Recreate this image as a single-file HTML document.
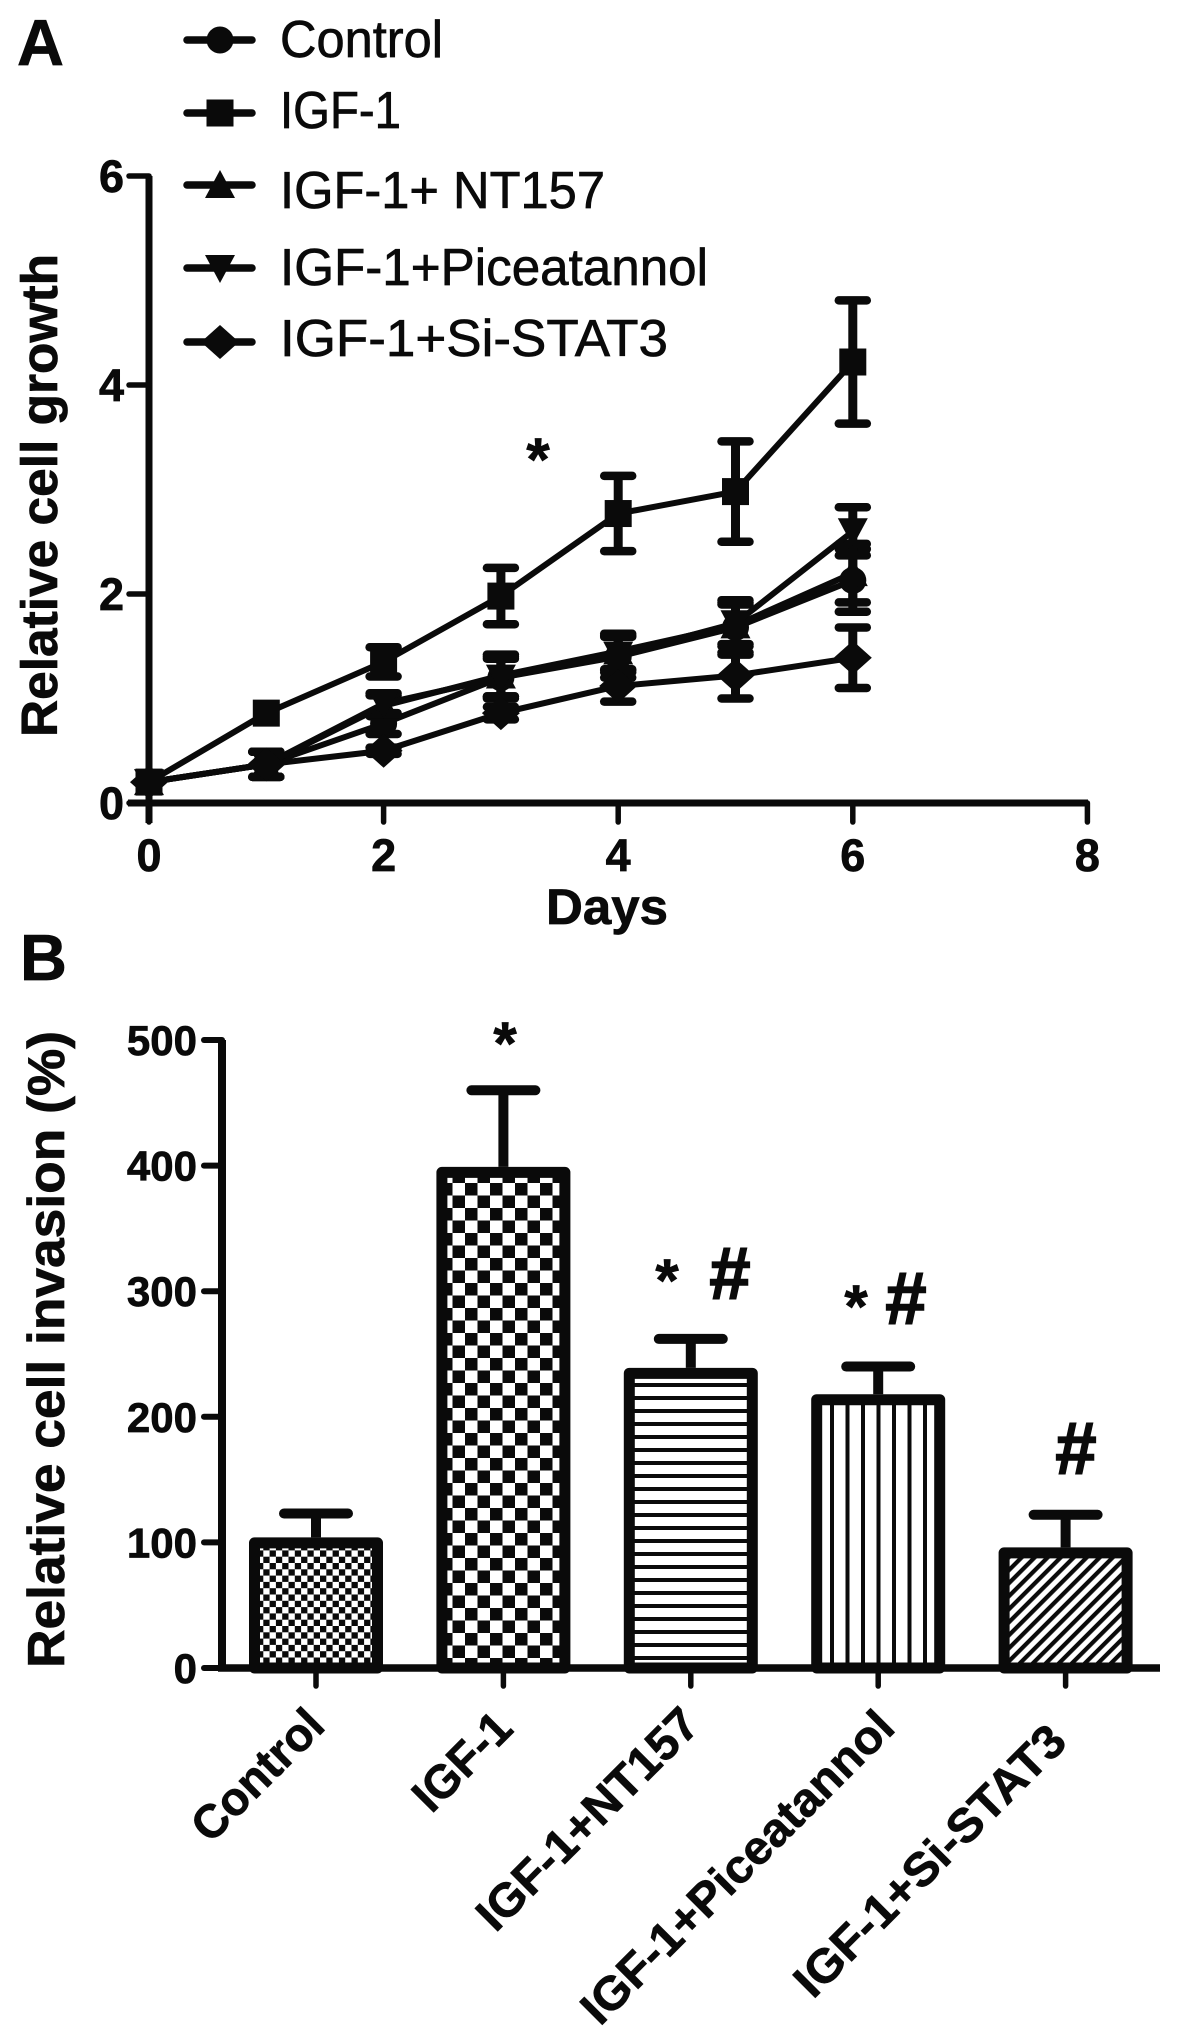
<!DOCTYPE html>
<html lang="en">
<head>
<meta charset="utf-8">
<title>Relative cell growth and invasion</title>
<style>
html,body{margin:0;padding:0;background:#fff;}
svg{display:block;}
text{font-family:"Liberation Sans",sans-serif;fill:#0a0a0a;stroke:#0a0a0a;stroke-width:.7px;}
.b{font-weight:bold;}
</style>
</head>
<body>
<svg id="fig" xmlns="http://www.w3.org/2000/svg" width="1181" height="2041" viewBox="0 0 1181 2041">
<defs>
<pattern id="p-fine" patternUnits="userSpaceOnUse" x="257" y="1500" width="12.6" height="12.6">
<rect width="12.6" height="12.6" fill="#fff"/>
<rect width="6.3" height="6.3" fill="#0a0a0a"/>
<rect x="6.3" y="6.3" width="6.3" height="6.3" fill="#0a0a0a"/>
</pattern>
<pattern id="p-check" patternUnits="userSpaceOnUse" x="465" y="1183" width="25" height="25">
<rect width="25" height="25" fill="#fff"/>
<rect width="12.5" height="12.5" fill="#0a0a0a"/>
<rect x="12.5" y="12.5" width="12.5" height="12.5" fill="#0a0a0a"/>
</pattern>
<pattern id="p-horiz" patternUnits="userSpaceOnUse" x="0" y="1383" width="13" height="13">
<rect width="13" height="13" fill="#fff"/>
<rect width="13" height="4" fill="#0a0a0a"/>
</pattern>
<pattern id="p-vert" patternUnits="userSpaceOnUse" x="830" y="0" width="15.5" height="15.5">
<rect width="15.5" height="15.5" fill="#fff"/>
<rect width="4" height="15.5" fill="#0a0a0a"/>
</pattern>
<pattern id="p-diag" patternUnits="userSpaceOnUse" width="9.2" height="9.2" patternTransform="rotate(45)">
<rect width="9.2" height="9.2" fill="#fff"/>
<rect width="4.2" height="9.2" fill="#0a0a0a"/>
</pattern>
</defs>

<text class="b" x="17" y="65" font-size="65">A</text>
<text class="b" x="20" y="980" font-size="65">B</text>

<g id="legend">
<text x="280" y="57" font-size="52" textLength="163" lengthAdjust="spacingAndGlyphs">Control</text>
<text x="280" y="128" font-size="52" textLength="121" lengthAdjust="spacingAndGlyphs">IGF-1</text>
<text x="280" y="208" font-size="52" textLength="325" lengthAdjust="spacingAndGlyphs">IGF-1+ NT157</text>
<text x="280" y="285" font-size="52" textLength="428" lengthAdjust="spacingAndGlyphs">IGF-1+Piceatannol</text>
<text x="280" y="356" font-size="52" textLength="388" lengthAdjust="spacingAndGlyphs">IGF-1+Si-STAT3</text>
</g>

<text class="b" transform="translate(57,737) rotate(-90)" font-size="51" textLength="483" lengthAdjust="spacingAndGlyphs">Relative cell growth</text>
<text class="b" x="546" y="924" font-size="50" textLength="122" lengthAdjust="spacingAndGlyphs">Days</text>
<text class="b" x="538" y="480" font-size="60" text-anchor="middle">*</text>

<text class="b" transform="translate(64,1668) rotate(-90)" font-size="52" textLength="637" lengthAdjust="spacingAndGlyphs">Relative cell invasion (%)</text>
<text class="b" x="505" y="1064" font-size="60" text-anchor="middle">*</text>
<text class="b" x="667" y="1301" font-size="60" text-anchor="middle">*</text>
<text class="b" x="730" y="1299" font-size="74" text-anchor="middle" style="stroke-width:1.6px">#</text>
<text class="b" x="856" y="1327" font-size="60" text-anchor="middle">*</text>
<text class="b" x="906" y="1324" font-size="74" text-anchor="middle" style="stroke-width:1.6px">#</text>
<text class="b" x="1076" y="1474" font-size="74" text-anchor="middle" style="stroke-width:1.6px">#</text>

<g id="chart-a"></g>
<g id="chart-b"></g>
</svg>

<script>
// Panel A data
const days = [0, 1, 2, 3, 4, 5, 6];
const xTicksA = [0, 2, 4, 6, 8];
const yTicksA = [0, 2, 4, 6];
const controlValues = [0.2, 0.37, 0.76, 1.2, 1.4, 1.68, 2.13];
const controlErrors = [0, 0.12, 0.1, 0.2, 0.2, 0.26, 0.3];
const igfValues = [0.2, 0.86, 1.35, 1.98, 2.77, 2.98, 4.22];
const igfErrors = [0, 0, 0.14, 0.27, 0.36, 0.48, 0.59];
const nt157Values = [0.2, 0.37, 0.93, 1.22, 1.45, 1.7, 2.2];
const nt157Errors = [0, 0.12, 0.1, 0.2, 0.17, 0.2, 0.28];
const piceatannolValues = [0.2, 0.37, 0.95, 1.2, 1.42, 1.72, 2.6];
const piceatannolErrors = [0, 0.12, 0.1, 0.18, 0.17, 0.2, 0.23];
const siStat3Values = [0.2, 0.37, 0.5, 0.86, 1.12, 1.22, 1.39];
const siStat3Errors = [0, 0.12, 0.03, 0.06, 0.15, 0.22, 0.29];

// Panel B data
const categories = ['Control', 'IGF-1', 'IGF-1+NT157', 'IGF-1+Piceatannol', 'IGF-1+Si-STAT3'];
const barMeans = [104, 399, 239, 218, 96];
const barErrors = [19, 61, 23, 22, 26];
const yTicksB = [0, 100, 200, 300, 400, 500];

const NS = 'http://www.w3.org/2000/svg';
const INK = '#0a0a0a';
const chartA = document.getElementById('chart-a');
const chartB = document.getElementById('chart-b');
const legendGroup = document.getElementById('legend');

function make(parent, tag, attrs, name) {
  const el = document.createElementNS(NS, tag);
  for (const k in attrs) el.setAttribute(k, attrs[k]);
  
  
  parent.appendChild(el);
  return el;
}

function seg(parent, x1, y1, x2, y2, w, name, cap) {
  return make(parent, 'line', {x1: x1, y1: y1, x2: x2, y2: y2, stroke: INK, 'stroke-width': w, 'stroke-linecap': cap || 'round'}, name);
}

// Axis functions
const xA = d => 149 + d * 117.3;
const yA = v => 803 - v * 104.5;
const yB = v => 1668 - v * 1.256;
const xB = i => 316 + i * 187.4;

function marker(parent, kind, cx, cy, name) {
  if (kind === 'circle') {
    return make(parent, 'circle', {cx: cx, cy: cy, r: 13.5, fill: INK}, name);
  }
  if (kind === 'square') {
    return make(parent, 'rect', {x: cx - 13.5, y: cy - 13.5, width: 27, height: 27, fill: INK}, name);
  }
  let pts;
  if (kind === 'up') pts = [[cx, cy - 15], [cx + 15, cy + 13], [cx - 15, cy + 13]];
  if (kind === 'down') pts = [[cx - 15, cy - 13], [cx + 15, cy - 13], [cx, cy + 15]];
  if (kind === 'diamond') pts = [[cx, cy - 17], [cx + 19, cy], [cx, cy + 17], [cx - 19, cy]];
  return make(parent, 'polygon', {points: pts.map(p => p.join(',')).join(' '), fill: INK}, name);
}

// Panel A axes
seg(chartA, 149, 176, 149, 823, 7, 'y-axis-line-growth', 'butt');
seg(chartA, 128, 803, 1088, 803, 7, 'x-axis-line-days', 'butt');
yTicksA.forEach(v => {
  seg(chartA, 129, yA(v), 149, yA(v), 5.5, 'y-tick-growth-' + v);
  const t = make(chartA, 'text', {x: 124, y: yA(v) + 16, 'font-size': 45, 'text-anchor': 'end', 'font-weight': 'bold'}, 'y-tick-label-growth-' + v);
  t.textContent = String(v);
});
xTicksA.forEach(d => {
  seg(chartA, xA(d), 803, xA(d), 822, 5.5, 'x-tick-days-' + d);
  const t = make(chartA, 'text', {x: xA(d), y: 871, 'font-size': 45, 'text-anchor': 'middle', 'font-weight': 'bold'}, 'x-tick-label-days-' + d);
  t.textContent = String(d);
});

// Panel A series
function drawSeries(key, kind, values, errors) {
  const g = make(chartA, 'g', {}, 'series-' + key);
  values.forEach((v, i) => {
    if (errors[i] <= 0) return;
    const x = xA(days[i]);
    seg(g, x, yA(v + errors[i]), x, yA(v - errors[i]), 9, 'error-bar-' + key + '-day-' + days[i], 'butt');
    seg(g, x - 14, yA(v + errors[i]), x + 14, yA(v + errors[i]), 8.5, 'error-cap-top-' + key + '-day-' + days[i]);
    seg(g, x - 14, yA(v - errors[i]), x + 14, yA(v - errors[i]), 8.5, 'error-cap-bottom-' + key + '-day-' + days[i]);
  });
  make(g, 'polyline', {
    points: values.map((v, i) => xA(days[i]) + ',' + yA(v)).join(' '),
    fill: 'none', stroke: INK, 'stroke-width': 6, 'stroke-linejoin': 'round'
  }, 'line-' + key);
  values.forEach((v, i) => {
    marker(g, kind, xA(days[i]), yA(v), 'point-' + key + '-day-' + days[i]);
  });
}
drawSeries('control', 'circle', controlValues, controlErrors);
drawSeries('igf-1', 'square', igfValues, igfErrors);
drawSeries('nt157', 'up', nt157Values, nt157Errors);
drawSeries('piceatannol', 'down', piceatannolValues, piceatannolErrors);
drawSeries('si-stat3', 'diamond', siStat3Values, siStat3Errors);

// Legend keys
function legendKey(key, kind, y) {
  seg(legendGroup, 187, y, 252, y, 7.5, 'legend-line-' + key);
  marker(legendGroup, kind, 220, y, 'legend-marker-' + key);
}
legendKey('control', 'circle', 40);
legendKey('igf-1', 'square', 113);
legendKey('nt157', 'up', 185);
legendKey('piceatannol', 'down', 268);
legendKey('si-stat3', 'diamond', 342);

// Panel B axes
seg(chartB, 222, 1040, 222, 1671, 8, 'y-axis-line-invasion', 'butt');
yTicksB.forEach(v => {
  seg(chartB, 204, yB(v), 222, yB(v), 6, 'y-tick-invasion-' + v);
  const t = make(chartB, 'text', {x: 197, y: yB(v) + 15, 'font-size': 42, 'text-anchor': 'end', 'font-weight': 'bold'}, 'y-tick-label-invasion-' + v);
  t.textContent = String(v);
});

// Panel B bars
const barFills = ['p-fine', 'p-check', 'p-horiz', 'p-vert', 'p-diag'];
const labelEnds = [[327, 1728], [515, 1731], [702, 1727], [897, 1730], [1069, 1744]];
const labelLengths = [165, 118, 292, 420, 362];
categories.forEach((c, i) => {
  const x = xB(i);
  const key = c.toLowerCase().replace(/[^a-z0-9]+/g, '-');
  const top = yB(barMeans[i]);
  const capY = yB(barMeans[i] + barErrors[i]);
  seg(chartB, x, capY, x, top, 10, 'error-bar-' + key, 'butt');
  seg(chartB, x - 32, capY, x + 32, capY, 10, 'error-cap-' + key);
  make(chartB, 'rect', {
    x: x - 61.5, y: top + 5.5, width: 123, height: 1668 - top - 5.5,
    fill: 'url(#' + barFills[i] + ')', stroke: INK, 'stroke-width': 11, 'stroke-linejoin': 'round'
  }, 'bar-' + key);
  seg(chartB, x, 1668, x, 1686, 5.5, 'x-tick-' + key);
  const t = make(chartB, 'text', {
    transform: 'translate(' + labelEnds[i][0] + ',' + labelEnds[i][1] + ') rotate(-45)',
    'font-size': 47, 'font-weight': 'bold', 'text-anchor': 'end',
    textLength: labelLengths[i], lengthAdjust: 'spacingAndGlyphs'
  }, 'x-category-label-' + key);
  t.textContent = c;
});
seg(chartB, 218, 1668, 1160, 1668, 7.5, 'x-axis-line-invasion', 'butt');
</script>
</body>
</html>
